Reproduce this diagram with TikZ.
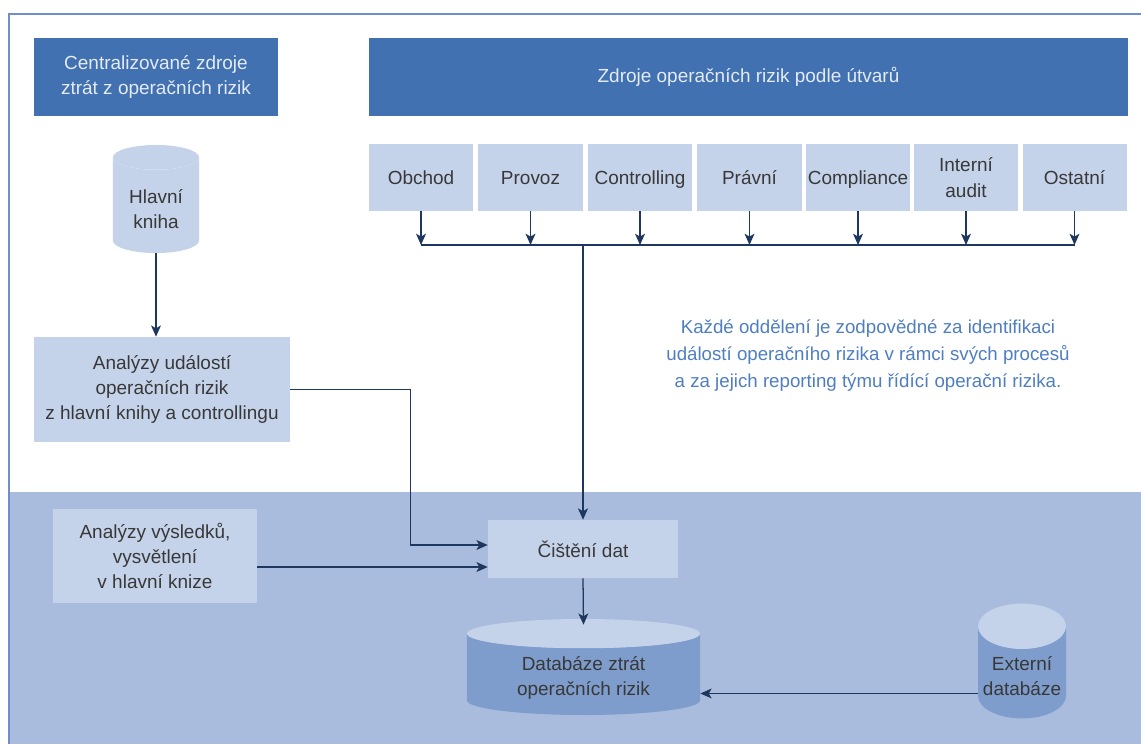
\documentclass[tikz,border=0pt]{standalone}
\usepackage{fontspec}
\setmainfont{Liberation Sans}
\usetikzlibrary{shapes.geometric,arrows.meta}
\definecolor{headblue}{HTML}{4171B1}
\definecolor{headtext}{HTML}{E4EBF6}
\definecolor{boxblue}{HTML}{C5D3EA}
\definecolor{bandblue}{HTML}{A9BCDD}
\definecolor{bodyblue}{HTML}{7E9DCC}
\definecolor{boxtext}{HTML}{383838}
\definecolor{arrowblue}{HTML}{1D375F}
\definecolor{noteblue}{HTML}{4F7EC0}
\definecolor{frameblue}{HTML}{6E8FC9}
\tikzset{
  head/.style={fill=headblue, text=headtext, align=center, inner sep=0pt},
  box/.style={fill=boxblue, text=boxtext, align=center, inner sep=0pt},
  store/.style={cylinder, shape border rotate=90, cylinder uses custom fill,
    cylinder end fill=boxblue, text=boxtext, align=center, inner sep=0pt,
    text height=33pt, anchor=shape center},
  arr/.style={-{Stealth[length=8pt,width=7pt,inset=2pt]}, draw=arrowblue, line width=0.9pt},
}
\begin{document}
\begin{tikzpicture}[x=0.025cm,y=-0.025cm,font=\fontsize{13.5}{17.8}\selectfont]
      \useasboundingbox (0,0) rectangle (1141,744);
      % background band and frame
      \fill[bandblue] (9,492) rectangle (1141,744);
      \draw[frameblue,line width=1.2pt] (1141,14) -- (9,14) -- (9,744);
      % headers
      \node[head,minimum width=6.1cm,minimum height=1.95cm] (cent) at (156,77) {Centralizované zdroje\\ztrát z operačních rizik};
      \node[head,minimum width=18.975cm,minimum height=1.95cm] (zdroje) at (748.5,77) {Zdroje operačních rizik podle útvarů};
      % left column
      \node[store,cylinder body fill=boxblue,minimum width=2.15cm,minimum height=2.7cm,aspect=0.46] (hk) at (156,199) {Hlavní\\kniha};
      \node[box,minimum width=6.4cm,minimum height=2.625cm] (ud) at (162,389.5) {Analýzy událostí\\operačních rizik\\z hlavní knihy a controllingu};
      \node[box,minimum width=5.1cm,minimum height=2.35cm] (vy) at (155,556) {Analýzy výsledků,\\vysvětlení\\v hlavní knize};
      % departments
      \coordinate (bus) at (0,245);
      \foreach \x/\n/\t in {421/1/Obchod,530.5/2/Provoz,640/3/Controlling,749.5/4/Právní,858/5/Compliance,966/6/{Interní\\audit},1074.5/7/Ostatní} {
          \node[box,minimum width=2.6cm,minimum height=1.675cm,text depth=0pt] (d\n) at (\x,177.5) {\t};
          \draw[arr] (d\n.south) -- (d\n.south |- bus);
        }
      \draw[arrowblue,line width=0.9pt] (d1.south |- bus) -- (d7.south |- bus);
      \node[text=noteblue,align=center,font=\fontsize{13.3}{19.2}\selectfont] (note) at (868,356) {Každé oddělení je zodpovědné za identifikaci\\událostí operačního rizika v rámci svých procesů\\a za jejich reporting týmu řídící operační rizika.};
      % bottom part
      \node[box,minimum width=4.75cm,minimum height=1.45cm] (ci) at (583,549) {Čištění dat};
      \node[store,cylinder body fill=bodyblue,minimum width=5.825cm,minimum height=2.4cm,aspect=0.22] (dbz) at (583.5,667) {Databáze ztrát\\operačních rizik};
      \node[store,cylinder body fill=bodyblue,minimum width=2.2cm,minimum height=2.8cm,aspect=0.58] (ext) at (1022,661) {Externí\\databáze};
      % connectors
      \draw[arr] (hk.south) -- (hk.south |- ud.north);
      \draw[arr,line width=2pt] (ci.north |- bus) -- (ci.north);
      \draw[arr] (ud.east) -- ++(120,0) |- ([yshift=0.1cm]ci.west);
      \draw[arr] ([yshift=-0.275cm]vy.east) -- ([yshift=-0.275cm]vy.east -| ci.west);
      \draw[arr] (ci.south) -- ([yshift=-0.15cm]dbz.north);
      \draw[arr] ([yshift=-0.525cm]ext.west) -- ([yshift=-0.525cm]ext.west -| dbz.east);
    \end{tikzpicture}
\end{document}
